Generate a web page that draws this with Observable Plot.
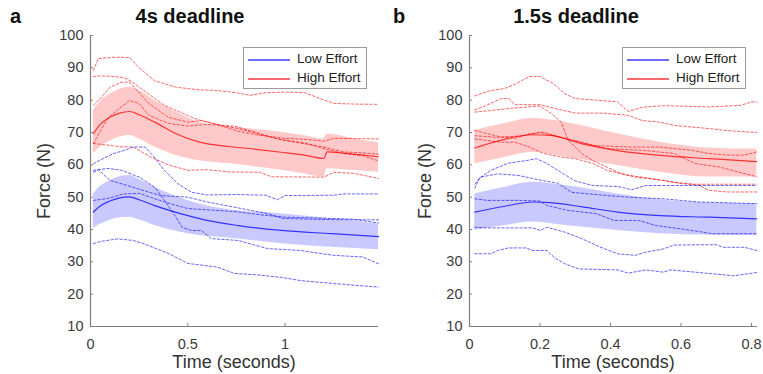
<!DOCTYPE html>
<html>
<head>
<meta charset="utf-8">
<script src="https://cdn.jsdelivr.net/npm/d3@7"></script>
<script src="https://cdn.jsdelivr.net/npm/@observablehq/plot@0.6"></script>
<style>
  html, body { margin: 0; padding: 0; background: #fff; }
  #wrap { position: relative; width: 763px; height: 374px; font-family: "Liberation Sans", Arial, sans-serif; color: #222; overflow: hidden; }
  .abs { position: absolute; white-space: nowrap; }
  .title { font-weight: bold; font-size: 20px; color: #111; }
  .alab { font-size: 18px; color: #333; }
  .legend { position: absolute; border: 1px solid #9a9a9a; background: #fff; box-sizing: border-box; }
  .legend .row { position: absolute; left: 0; font-size: 13.5px; color: #222; white-space: nowrap; }
  .legend .sw { position: absolute; left: 4px; width: 42px; height: 2px; }
</style>
</head>
<body>
<div id="wrap"></div>
<script>
// ---------- DATA ----------
const yTicks = [10, 20, 30, 40, 50, 60, 70, 80, 90, 100];
const aXTicks = [0, 0.5, 1];
const bXTicks = [0, 0.2, 0.4, 0.6, 0.8];
const seriesNames = ["Low Effort", "High Effort"];
const panelTitles = ["4s deadline", "1.5s deadline"];
const panelLetters = ["a", "b"];

// Panel a (4s deadline) — [time, force]
const a_high_mean = [[0.015,69.6],[0.05,72.5],[0.1,74.7],[0.15,76],[0.2,76.5],[0.25,75.5],[0.33,73.2],[0.44,69.6],[0.56,67],[0.72,65.6],[0.85,64.8],[0.98,63.9],[1.1,63],[1.2,62],[1.215,64],[1.3,63.6],[1.4,63],[1.48,62.5]];
// [time, lower, upper]
const a_high_band = [[0.015,63.4,76.8],[0.05,65.5,79.5],[0.1,67.3,81.8],[0.15,68.6,83.4],[0.2,69.1,84],[0.25,68,83],[0.33,65.5,79.9],[0.44,62.9,76.3],[0.56,61.3,73.2],[0.72,60.3,71.8],[0.85,59.3,70.9],[0.98,58.3,70.1],[1.1,57.2,69],[1.2,56.2,68],[1.215,58.8,69.5],[1.3,58.5,68.8],[1.4,58,67.5],[1.48,57.7,66.8]];
const a_low_mean = [[0.015,45.4],[0.05,47.3],[0.1,48.8],[0.15,49.8],[0.2,50.1],[0.25,49.2],[0.33,47.4],[0.5,44.3],[0.6,42.8],[0.76,41.2],[0.98,39.7],[1.24,38.7],[1.48,37.8]];
const a_low_band = [[0.015,40.2,51],[0.05,41.6,53.3],[0.1,42.8,55.1],[0.15,43.6,56.3],[0.2,43.8,56.7],[0.25,43,55.5],[0.33,41.2,53.1],[0.5,38.7,49],[0.6,37.9,47.3],[0.76,37.1,45.8],[0.98,35.6,44.9],[1.24,34.5,43.3],[1.48,33.7,41.7]];

const a_high_1 = [[0.015,89.2],[0.04,92.9],[0.13,93.3],[0.2,93.2],[0.25,90],[0.33,86],[0.44,84],[0.56,83.2],[0.65,83],[0.75,82.3],[0.82,81.5],[0.9,82.3],[1.0,82.5],[1.1,82.3],[1.18,80.5],[1.25,79],[1.35,78.8],[1.48,78.7]];
const a_high_2 = [[0.015,87.3],[0.05,87.5],[0.1,87.4],[0.17,87],[0.21,85.8],[0.31,81.4],[0.38,78.4],[0.47,76],[0.55,74],[0.65,72.5],[0.75,70.5],[0.85,69.3],[1.0,68.2],[1.12,67.8],[1.2,67.3],[1.25,68.2],[1.48,68]];
const a_high_3 = [[0.015,78.4],[0.05,80.5],[0.1,84],[0.16,85.6],[0.2,85.6],[0.3,79],[0.4,74.7],[0.5,73.2],[0.57,73.7],[0.67,72.2],[0.76,71.2],[0.9,69],[1.0,67.5],[1.1,66.5],[1.2,65.5],[1.3,64],[1.4,63.7],[1.48,63.3]];
const a_high_4 = [[0.015,66.6],[0.09,74.6],[0.2,79.9],[0.25,79],[0.3,75.3],[0.4,72.8],[0.5,72],[0.6,72.5],[0.74,72],[0.85,70],[0.96,68],[1.1,66.8],[1.2,65],[1.3,63.5],[1.4,62.8],[1.48,61.2]];
const a_high_5 = [[0.015,66.6],[0.06,66.3],[0.15,65.6],[0.22,65.5],[0.31,62.4],[0.4,60],[0.5,58.3],[0.6,58.5],[0.72,57.8],[0.87,57.7],[0.93,56.3],[1.2,56.2],[1.25,57.7],[1.35,57.4],[1.48,55.8]];

const a_low_1 = [[0.015,60.3],[0.05,61.5],[0.12,63.5],[0.18,64.6],[0.22,65.5],[0.28,65.5],[0.32,62.9],[0.38,58.3],[0.45,54.1],[0.52,51.5],[0.6,50.7],[0.76,50.8],[0.9,50.6],[0.96,49.2],[1.0,50.5],[1.25,50.6],[1.3,51],[1.48,51]];
const a_low_2 = [[0.015,58.3],[0.09,58.9],[0.16,58.3],[0.25,56.2],[0.33,53.1],[0.38,49],[0.44,43.8],[0.47,40.7],[0.52,39.7],[0.57,39.7],[0.62,37.2],[0.76,36.6],[0.91,34.1],[1.08,33.5],[1.25,32],[1.4,31.5],[1.48,29.4]];
const a_low_3 = [[0.015,57.7],[0.04,58.5],[0.1,55.2],[0.19,53.6],[0.27,52.1],[0.36,50.5],[0.5,50],[0.6,48.5],[0.74,46.9],[0.91,44.9],[0.99,43.4],[1.2,43.1],[1.35,43],[1.48,43]];
const a_low_4 = [[0.015,49],[0.09,49.6],[0.17,51],[0.25,51.2],[0.33,49.5],[0.42,47.8],[0.5,46.5],[0.62,46],[0.75,45.5],[0.88,44.5],[1.0,43.8],[1.2,43.5],[1.35,43.2],[1.48,42]];
const a_low_5 = [[0.015,35.6],[0.05,36.3],[0.14,37.1],[0.22,36.6],[0.27,35.7],[0.4,32.6],[0.5,29.5],[0.65,28.4],[0.74,26.4],[0.85,26],[0.98,25.2],[1.08,24.2],[1.17,23.7],[1.25,23.3],[1.37,22.7],[1.48,22.2]];

// Panel b (1.5s deadline)
const b_high_mean = [[0.015,65.2],[0.085,67.5],[0.18,69.3],[0.23,69.1],[0.32,66.5],[0.42,64.4],[0.54,62.9],[0.68,61.9],[0.76,61.4],[0.815,61]];
const b_high_band = [[0.015,60.3,70.6],[0.1,62.3,72.8],[0.18,63.9,74.3],[0.27,62.4,73.2],[0.42,59.8,69.6],[0.54,57.7,67],[0.68,56.2,65.2],[0.815,56.2,64.8]];
const b_low_mean = [[0.015,45.4],[0.1,47.2],[0.18,48.5],[0.23,48.3],[0.32,47],[0.42,45.4],[0.54,44.3],[0.68,43.8],[0.815,43.3]];
const b_low_band = [[0.015,39.7,51],[0.1,41.2,53.1],[0.18,42.3,54.6],[0.27,41.2,53.6],[0.42,39.7,51],[0.54,38.7,49.2],[0.68,38.2,48.2],[0.815,38.1,48]];

const b_high_1 = [[0.015,81.3],[0.06,83],[0.1,83.6],[0.13,85],[0.17,87.3],[0.2,87.3],[0.24,85],[0.27,82],[0.3,80.5],[0.36,80],[0.42,79.5],[0.45,76.5],[0.49,77.8],[0.55,78.3],[0.68,77.9],[0.77,78.4],[0.8,79.5],[0.815,79.4]];
const b_high_2 = [[0.015,77],[0.05,78.5],[0.09,80.5],[0.11,80.5],[0.13,78.6],[0.2,78.6],[0.24,77.5],[0.3,76],[0.38,76],[0.45,75.3],[0.49,73.7],[0.54,73.2],[0.58,72.2],[0.68,71.2],[0.73,70.6],[0.815,70]];
const b_high_3 = [[0.015,76.3],[0.06,76.8],[0.12,77.5],[0.2,78.2],[0.23,76],[0.26,73.3],[0.28,67.6],[0.32,63.4],[0.35,61.3],[0.39,59.3],[0.43,57.3],[0.47,56.2],[0.55,55.2],[0.6,54.2],[0.65,53.7],[0.68,52.1],[0.73,51.6],[0.815,51.6]];
const b_high_4 = [[0.015,70.6],[0.09,68.6],[0.13,68.2],[0.17,69.6],[0.21,70.1],[0.27,68.1],[0.35,66],[0.45,65.5],[0.54,65.5],[0.63,64.5],[0.68,63.5],[0.73,63],[0.78,63],[0.815,64]];
const b_high_5 = [[0.015,69],[0.08,68.5],[0.15,69],[0.2,70],[0.3,67.5],[0.39,65],[0.49,64.5],[0.58,63.5],[0.64,60.4],[0.71,59.3],[0.815,56.3]];
const b_high_6 = [[0.015,68],[0.09,67],[0.13,67],[0.17,65.5],[0.21,63.5],[0.26,62.4],[0.3,61.9],[0.35,60.4],[0.39,58.3],[0.45,56.8],[0.52,55.7],[0.58,54.6],[0.64,54],[0.815,54]];

const b_low_1 = [[0.015,54],[0.03,56],[0.06,58.3],[0.11,60.5],[0.16,61.3],[0.19,61.9],[0.22,60.4],[0.27,57],[0.3,55],[0.35,53.6],[0.42,53.3],[0.46,52.3],[0.5,53.6],[0.7,53.6],[0.815,53.6]];
const b_low_2 = [[0.015,52.8],[0.03,56.2],[0.08,57.2],[0.14,56.7],[0.19,55.5],[0.25,54.3],[0.29,51.5],[0.39,50.5],[0.45,50],[0.55,49.5],[0.65,48.5],[0.815,48]];
const b_low_3 = [[0.015,49.5],[0.05,49],[0.15,49],[0.2,48.8],[0.22,47.4],[0.28,45.9],[0.36,44.9],[0.41,42.8],[0.48,42.8],[0.53,41.2],[0.6,40.2],[0.69,38.7],[0.815,38.7]];
const b_low_4 = [[0.015,40.7],[0.05,40.5],[0.18,40.5],[0.2,39.7],[0.22,40.7],[0.27,39.2],[0.32,37.1],[0.37,34.6],[0.42,32.5],[0.47,32],[0.5,33],[0.55,34],[0.58,35.2],[0.7,35.3],[0.72,34.5],[0.78,34.5],[0.815,33.5]];
const b_low_5 = [[0.015,32.5],[0.06,32.5],[0.08,33.5],[0.11,34.3],[0.16,34.3],[0.18,33.5],[0.22,33.5],[0.24,31.4],[0.27,29.4],[0.31,27.8],[0.42,27.5],[0.45,26.5],[0.5,27.5],[0.55,26.8],[0.57,27.5],[0.7,26.2],[0.75,25.7],[0.815,26.7]];

// ---------- STYLE ----------
const BLUE = "#0000ff", RED = "#ff0000";
const BLUE_KEY = "#6b6bff", RED_KEY = "#ff6b6b";
const FONT = '"Liberation Sans", Arial, sans-serif';

const panels = [
  { left: 0, width: 381, marginLeft: 90, marginRight: 3, xDomain: [0, 1.48], xTicks: aXTicks,
    lowMean: a_low_mean, lowBand: a_low_band, highMean: a_high_mean, highBand: a_high_band,
    lowLines: [a_low_1, a_low_2, a_low_3, a_low_4, a_low_5],
    highLines: [a_high_1, a_high_2, a_high_3, a_high_4, a_high_5],
    titleX: 190, letterX: 10, legendX: 243 },
  { left: 381, width: 382, marginLeft: 88, marginRight: 6, xDomain: [0, 0.817], xTicks: bXTicks,
    lowMean: b_low_mean, lowBand: b_low_band, highMean: b_high_mean, highBand: b_high_band,
    lowLines: [b_low_1, b_low_2, b_low_3, b_low_4, b_low_5],
    highLines: [b_high_1, b_high_2, b_high_3, b_high_4, b_high_5, b_high_6],
    titleX: 576, letterX: 393, legendX: 622 }
];

const tidy = (lines) => lines.flatMap((ln, i) => ln.map(([t, v]) => ({t, v, id: i})));

const wrap = document.getElementById("wrap");

panels.forEach((p, k) => {
  const chart = Plot.plot({
    width: p.width, height: 374,
    marginLeft: p.marginLeft, marginRight: p.marginRight, marginTop: 35, marginBottom: 48,
    style: { fontFamily: FONT, fontSize: "14.5px", color: "#3a3a3a", background: "transparent", overflow: "visible" },
    x: { domain: p.xDomain },
    y: { domain: [10, 100] },
    marks: [
      Plot.areaY(p.highBand, { x: d => d[0], y1: d => d[1], y2: d => d[2], fill: RED, fillOpacity: 0.21, curve: "monotone-x" }),
      Plot.areaY(p.lowBand, { x: d => d[0], y1: d => d[1], y2: d => d[2], fill: BLUE, fillOpacity: 0.21, curve: "monotone-x" }),
      Plot.lineY(tidy(p.highLines), { x: "t", y: "v", z: "id", stroke: RED, strokeOpacity: 0.6, strokeWidth: 1, strokeDasharray: "2.5,2" }),
      Plot.lineY(tidy(p.lowLines), { x: "t", y: "v", z: "id", stroke: BLUE, strokeOpacity: 0.6, strokeWidth: 1, strokeDasharray: "2.5,2" }),
      Plot.lineY(p.highMean, { x: d => d[0], y: d => d[1], stroke: RED, strokeOpacity: 0.75, strokeWidth: 1.2, curve: "monotone-x" }),
      Plot.lineY(p.lowMean, { x: d => d[0], y: d => d[1], stroke: BLUE, strokeOpacity: 0.75, strokeWidth: 1.2, curve: "monotone-x" }),
      Plot.ruleX([p.xDomain[0]], { stroke: "#808080", strokeWidth: 1.2 }),
      Plot.ruleY([10], { stroke: "#808080", strokeWidth: 1.2 }),
      Plot.axisY(yTicks, { tickSize: -3, tickPadding: 10, label: null, stroke: "#808080", fill: "#3a3a3a", tickFormat: d => String(d) }),
      Plot.axisX(p.xTicks, { tickSize: -3, tickPadding: 15, label: null, stroke: "#808080", fill: "#3a3a3a", tickFormat: d => String(d) })
    ]
  });
  chart.style.position = "absolute";
  chart.style.left = p.left + "px";
  chart.style.top = "0px";
  wrap.appendChild(chart);

  // title and panel letter
  const t = document.createElement("div");
  t.className = "abs title";
  t.textContent = panelTitles[k];
  t.style.left = p.titleX + "px"; t.style.top = "5px"; t.style.transform = "translateX(-50%)";
  wrap.appendChild(t);
  const l = document.createElement("div");
  l.className = "abs title";
  l.textContent = panelLetters[k];
  l.style.left = p.letterX + "px"; l.style.top = "5px";
  wrap.appendChild(l);

  // axis labels
  const plotCenterX = p.left + p.marginLeft + (p.width - p.marginLeft - p.marginRight) / 2;
  const xl = document.createElement("div");
  xl.className = "abs alab";
  xl.textContent = "Time (seconds)";
  xl.style.left = plotCenterX + "px"; xl.style.top = "352px"; xl.style.transform = "translateX(-50%)";
  wrap.appendChild(xl);
  const yl = document.createElement("div");
  yl.className = "abs alab";
  yl.textContent = "Force (N)";
  yl.style.left = (p.left + 44) + "px"; yl.style.top = "180.5px";
  yl.style.transform = "translate(-50%,-50%) rotate(-90deg)";
  wrap.appendChild(yl);

  // legend
  const lg = document.createElement("div");
  lg.className = "legend";
  lg.style.left = p.legendX + "px"; lg.style.top = "47px"; lg.style.width = "124px"; lg.style.height = "42px";
  [[seriesNames[0], BLUE_KEY, 11], [seriesNames[1], RED_KEY, 30]].forEach(([name, col, cy]) => {
    const sw = document.createElement("div");
    sw.className = "sw";
    sw.style.top = cy + "px";
    sw.style.background = col;
    sw.style.height = "1.5px";
    lg.appendChild(sw);
    const tx = document.createElement("div");
    tx.className = "row";
    tx.textContent = name;
    tx.style.left = "53px"; tx.style.top = (cy - 8) + "px";
    lg.appendChild(tx);
  });
  wrap.appendChild(lg);
});
</script>
</body>
</html>
